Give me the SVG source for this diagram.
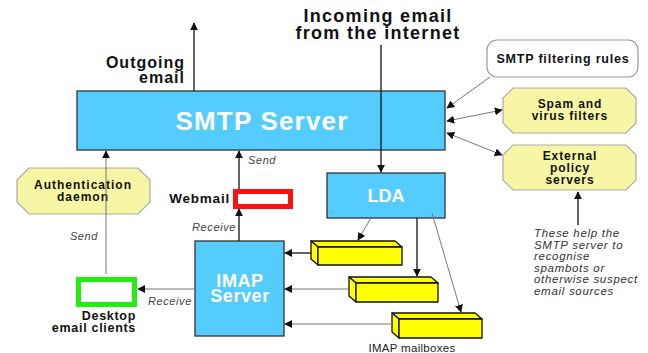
<svg xmlns="http://www.w3.org/2000/svg" width="648" height="353" viewBox="0 0 648 353">
<defs>
<marker id="ah" viewBox="0 0 10 10" refX="9" refY="5" markerWidth="8" markerHeight="8" markerUnits="userSpaceOnUse" orient="auto-start-reverse"><path d="M0,0 L10,5 L0,10 z" fill="#111"/></marker>
</defs>
<style>
.blue{fill:#55ccff;stroke:#333;stroke-width:1.3}
.oct{fill:#f6f6a4;stroke:#aaa;stroke-width:1.2}
.mb{fill:#ffff00;stroke:#111;stroke-width:1.3;stroke-linejoin:round}
.lbl{font-family:"Liberation Sans",Arial,sans-serif;font-weight:bold;fill:#111}
.wt{font-family:"Liberation Sans",Arial,sans-serif;font-weight:bold;fill:#fff}
.it{font-family:"Liberation Sans",Arial,sans-serif;font-style:italic;fill:#444;font-size:11px;letter-spacing:0.6px}
.nt{font-family:"Liberation Sans",Arial,sans-serif;font-style:italic;fill:#333;font-size:11.5px;letter-spacing:0.7px}
.dk{stroke:#111;stroke-width:1.3;fill:none}
.gr{stroke:#777;stroke-width:1;fill:none}
</style>
<rect width="648" height="353" fill="#fff"/>

<g id="smtp">
<rect class="blue" x="77" y="91" width="368" height="59"/>
<text class="wt" x="262" y="130" font-size="26" letter-spacing="1.2" text-anchor="middle">SMTP Server</text>
</g>
<g id="lda">
<rect class="blue" x="327" y="173" width="118" height="45"/>
<text class="wt" x="386" y="202" font-size="18" text-anchor="middle">LDA</text>
</g>
<g id="imap">
<rect class="blue" x="195" y="241" width="89" height="95"/>
<text class="wt" x="240" y="287" font-size="18" letter-spacing="0.6" text-anchor="middle">IMAP</text>
<text class="wt" x="240" y="302" font-size="18" letter-spacing="0.6" text-anchor="middle">Server</text>
</g>
<g id="filtering">
<rect x="487" y="40" width="151" height="37" rx="10" fill="#fff" stroke="#999" stroke-width="1.2"/>
<text class="lbl" x="563" y="63" font-size="12.5" letter-spacing="0.8" text-anchor="middle">SMTP filtering rules</text>
</g>
<g id="spam">
<polygon class="oct" points="513,88 626,88 636,98 636,123 626,133 513,133 503,123 503,98"/>
<text class="lbl" x="570" y="108" font-size="12" letter-spacing="0.9" text-anchor="middle">Spam and</text>
<text class="lbl" x="570" y="120" font-size="12" letter-spacing="0.9" text-anchor="middle">virus filters</text>
</g>
<g id="policy">
<polygon class="oct" points="513,145 626,145 636,155 636,180 626,190 513,190 503,180 503,155"/>
<text class="lbl" x="570" y="160" font-size="12" letter-spacing="0.9" text-anchor="middle">External</text>
<text class="lbl" x="570" y="172" font-size="12" letter-spacing="0.9" text-anchor="middle">policy</text>
<text class="lbl" x="570" y="184" font-size="12" letter-spacing="0.9" text-anchor="middle">servers</text>
</g>
<g id="auth">
<polygon class="oct" points="29,168 138,168 150,180 150,202 138,214 29,214 17,202 17,180"/>
<text class="lbl" x="83" y="189" font-size="12" letter-spacing="1" text-anchor="middle">Authentication</text>
<text class="lbl" x="83" y="201" font-size="12" letter-spacing="1" text-anchor="middle">daemon</text>
</g>
<g id="desktop">
<rect x="78.5" y="279.5" width="56" height="25" fill="#fff" stroke="#22ee11" stroke-width="5"/>
<text class="lbl" x="136" y="320" font-size="12.5" letter-spacing="0.7" text-anchor="end">Desktop</text>
<text class="lbl" x="136" y="332" font-size="12.5" letter-spacing="0.7" text-anchor="end">email clients</text>
</g>
<g id="webmail">
<rect x="235.5" y="191.5" width="55" height="15" fill="#fff" stroke="#ff1111" stroke-width="5"/>
<text class="lbl" x="230" y="203" font-size="13.5" letter-spacing="0.8" text-anchor="end">Webmail</text>
</g>
<g id="mailbox1">
<polygon class="mb" points="311,241 395,241 402,247 318,247"/>
<polygon class="mb" points="311,241 318,247 318,265 311,259"/>
<rect class="mb" x="318" y="247" width="84" height="18"/>
</g>
<g id="mailbox2">
<polygon class="mb" points="349,277 431,277 438,283 356,283"/>
<polygon class="mb" points="349,277 356,283 356,302 349,296"/>
<rect class="mb" x="356" y="283" width="82" height="19"/>
</g>
<g id="mailbox3">
<polygon class="mb" points="392,313 475,313 482,319 399,319"/>
<polygon class="mb" points="392,313 399,319 399,338 392,332"/>
<rect class="mb" x="399" y="319" width="83" height="19"/>
</g>
<g id="texts">
<text class="lbl" x="185" y="68" font-size="16" letter-spacing="1" text-anchor="end">Outgoing</text>
<text class="lbl" x="185" y="83" font-size="16" letter-spacing="1" text-anchor="end">email</text>
<text class="lbl" x="378" y="22" font-size="18" letter-spacing="1.3" text-anchor="middle">Incoming email</text>
<text class="lbl" x="378" y="39" font-size="18" letter-spacing="1.3" text-anchor="middle">from the internet</text>
<text class="nt" x="534" y="237">These help the</text>
<text class="nt" x="534" y="249">SMTP server to</text>
<text class="nt" x="534" y="260">recognise</text>
<text class="nt" x="534" y="272">spambots or</text>
<text class="nt" x="534" y="283">otherwise suspect</text>
<text class="nt" x="534" y="295">email sources</text>
<text x="412" y="352" font-family="Liberation Sans,Arial,sans-serif" font-size="11.5" letter-spacing="0.3" fill="#222" text-anchor="middle">IMAP mailboxes</text>
<text class="it" x="98" y="240" text-anchor="end">Send</text>
<text class="it" x="248" y="164">Send</text>
<text class="it" x="236" y="231" text-anchor="end">Receive</text>
<text class="it" x="148" y="305">Receive</text>
</g>
<g id="connectors">
<line class="dk" x1="194" y1="91" x2="194" y2="23" marker-end="url(#ah)"/>
<line class="dk" x1="381" y1="45" x2="381" y2="172" marker-end="url(#ah)"/>
<line class="gr" x1="490" y1="77" x2="447" y2="108" marker-end="url(#ah)"/>
<line class="gr" x1="447" y1="121" x2="502" y2="110" marker-start="url(#ah)" marker-end="url(#ah)"/>
<line class="gr" x1="447" y1="133" x2="502" y2="155" marker-start="url(#ah)" marker-end="url(#ah)"/>
<line class="dk" x1="578" y1="225" x2="578" y2="192" marker-end="url(#ah)"/>
<line class="gr" x1="106" y1="274" x2="106" y2="151" marker-end="url(#ah)"/>
<line class="dk" x1="239" y1="189" x2="239" y2="151" marker-end="url(#ah)"/>
<line class="dk" x1="239" y1="241" x2="239" y2="209" marker-end="url(#ah)"/>
<line class="gr" x1="195" y1="289" x2="138" y2="289" marker-end="url(#ah)"/>
<line class="dk" x1="311" y1="253" x2="285" y2="253" marker-end="url(#ah)"/>
<line class="gr" x1="349" y1="289" x2="285" y2="289" marker-end="url(#ah)"/>
<line class="gr" x1="392" y1="324" x2="285" y2="324" marker-end="url(#ah)"/>
<line class="gr" x1="371" y1="218" x2="358" y2="240" marker-end="url(#ah)"/>
<line class="dk" x1="417" y1="218" x2="417" y2="276" marker-end="url(#ah)"/>
<line class="gr" x1="432" y1="213" x2="461" y2="312" marker-end="url(#ah)"/>
</g>
</svg>
